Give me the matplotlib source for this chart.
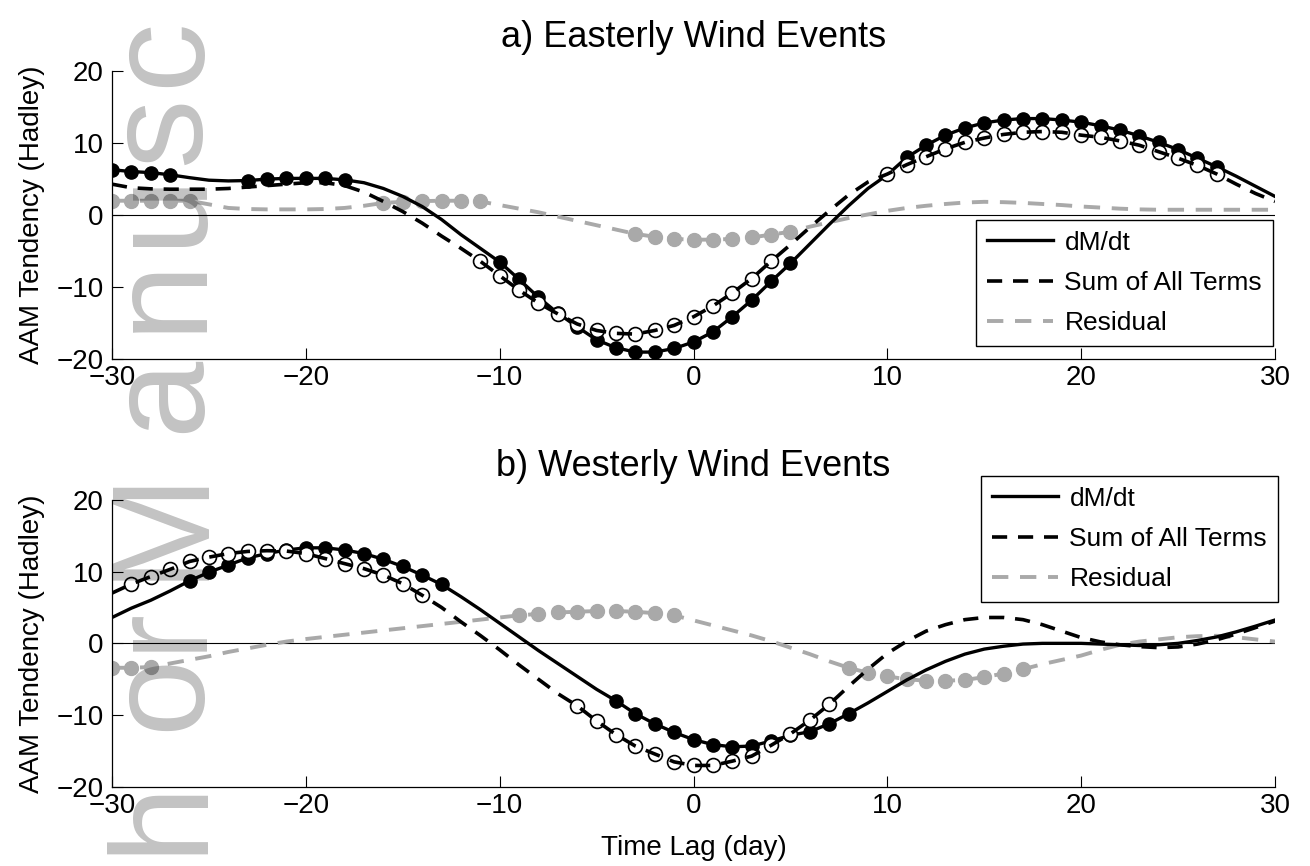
import matplotlib
matplotlib.use("Agg")
import matplotlib.pyplot as plt

plt.rcParams['font.family'] = ['Liberation Sans', 'DejaVu Sans']

# ---------------- data ----------------
days = list(range(-30, 31))

# a) Easterly wind events
a_dmdt = [6.3, 6.05, 5.9, 5.6, 5.2, 4.85, 4.75, 4.8, 5.0, 5.1,
          5.1, 5.1, 4.9, 4.5, 3.7, 2.6, 1.2, -0.6, -2.7, -4.6,
          -6.5, -8.9, -11.4, -13.6, -15.5, -17.3, -18.4, -19.0, -19.0, -18.5,
          -17.6, -16.2, -14.1, -11.8, -9.2, -6.7, -4.0, -1.3, 1.3, 3.7,
          5.6, 8.0, 9.7, 11.1, 12.1, 12.8, 13.2, 13.4, 13.4, 13.2,
          12.9, 12.4, 11.8, 11.0, 10.1, 9.1, 7.9, 6.7, 5.4, 4.0,
          2.6]
a_sum = [4.3, 3.8, 3.65, 3.6, 3.6, 3.6, 3.7, 3.9, 4.1, 4.3,
         4.5, 4.5, 4.1, 3.2, 1.9, 0.5, -1.1, -2.9, -4.6, -6.4,
         -8.4, -10.4, -12.2, -13.7, -15.1, -16.0, -16.4, -16.5, -16.0, -15.3,
         -14.1, -12.6, -10.8, -8.8, -6.4, -4.1, -1.7, 0.6, 2.8, 4.6,
         5.7, 7.0, 8.1, 9.2, 10.1, 10.7, 11.2, 11.5, 11.6, 11.5,
         11.1, 10.8, 10.3, 9.7, 8.8, 7.9, 6.9, 5.7, 4.3, 3.0,
         1.9]
a_res = [2.0, 2.0, 2.0, 2.0, 2.0, 1.5, 1.0, 0.85, 0.8, 0.8,
         0.8, 0.85, 1.0, 1.3, 1.7, 1.85, 1.95, 2.0, 2.0, 1.9,
         1.4, 0.9, 0.4, -0.2, -0.8, -1.4, -2.0, -2.6, -3.0, -3.3,
         -3.4, -3.4, -3.3, -3.1, -2.7, -2.3, -1.6, -1.0, -0.4, 0.1,
         0.6, 1.0, 1.3, 1.55, 1.75, 1.85, 1.8, 1.7, 1.55, 1.4,
         1.2, 1.05, 0.9, 0.8, 0.75, 0.75, 0.75, 0.75, 0.75, 0.75,
         0.75]

# b) Westerly wind events
b_dmdt = [3.6, 4.9, 6.0, 7.3, 8.7, 9.9, 10.9, 11.9, 12.5, 13.0,
          13.3, 13.3, 13.0, 12.5, 11.7, 10.7, 9.5, 8.2, 6.5, 4.7,
          2.8, 0.9, -1.0, -2.8, -4.6, -6.4, -8.0, -9.8, -11.2, -12.4,
          -13.4, -14.1, -14.4, -14.3, -13.6, -12.8, -12.3, -11.2, -9.8, -8.3,
          -6.7, -5.1, -3.7, -2.5, -1.5, -0.8, -0.4, -0.1, 0.0, 0.0,
          0.0, -0.1, -0.2, -0.3, -0.2, 0.0, 0.4, 0.9, 1.6, 2.4,
          3.25]
b_sum = [7.0, 8.25, 9.3, 10.3, 11.4, 12.0, 12.5, 12.8, 12.9, 12.85,
         12.5, 11.8, 11.1, 10.4, 9.5, 8.3, 6.7, 5.0, 3.0, 1.1,
         -0.9, -3.0, -5.0, -7.0, -8.7, -10.8, -12.7, -14.3, -15.4, -16.5,
         -17.0, -17.0, -16.4, -15.7, -14.2, -12.6, -10.7, -8.5, -6.0, -3.6,
         -1.4, 0.3, 1.7, 2.6, 3.3, 3.6, 3.6, 3.3, 2.6, 1.7,
         0.8, 0.2, -0.2, -0.45, -0.6, -0.5, -0.1, 0.5, 1.3, 2.2,
         3.1]
b_res = [-3.4, -3.4, -3.3, -2.8, -2.3, -1.8, -1.2, -0.7, -0.2, 0.25,
         0.6, 0.9, 1.2, 1.5, 1.8, 2.1, 2.4, 2.7, 3.0, 3.3,
         3.6, 3.9, 4.1, 4.3, 4.4, 4.5, 4.5, 4.4, 4.2, 3.9,
         3.2, 2.5, 1.8, 1.1, 0.3, -0.6, -1.5, -2.5, -3.4, -4.1,
         -4.6, -5.0, -5.2, -5.2, -5.1, -4.7, -4.2, -3.6, -2.9, -2.3,
         -1.7, -0.9, -0.2, 0.25, 0.55, 0.85, 1.0, 1.05, 0.85, 0.55,
         0.25]

# days flagged with markers
a_dmdt_mk = list(range(-30, -26)) + list(range(-23, -17)) + list(range(-10, 6)) + list(range(11, 28))
a_sum_mk = list(range(-11, 5)) + list(range(10, 28))
a_res_mk = list(range(-30, -25)) + list(range(-16, -10)) + list(range(-3, 6))
b_dmdt_mk = list(range(-26, -12)) + list(range(-4, 9))
b_sum_mk = list(range(-29, -13)) + list(range(-6, 8))
b_res_mk = list(range(-30, -27)) + list(range(-9, 0)) + list(range(8, 18))

titles = ["a) Easterly Wind Events", "b) Westerly Wind Events"]
legend_labels = ["dM/dt", "Sum of All Terms", "Residual"]
xticks = [-30, -20, -10, 0, 10, 20, 30]
yticks = [-20, -10, 0, 10, 20]

# watermark letters (visible part of "Author Manuscript")
wm_letters = ["h", "o", "r", "M", "a", "n", "u", "s", "c"]

GRAY = '#a9a9a9'
W, H = 1310, 866

fig = plt.figure(figsize=(W / 100, H / 100), dpi=100)

def fx(px):
    return px / W

def fy(py):
    return 1 - py / H

ax_a = fig.add_axes([fx(112), fy(359.3), fx(1275) - fx(112), (359.3 - 71) / H])
ax_b = fig.add_axes([fx(112), fy(787), fx(1275) - fx(112), (787 - 499.7) / H])

panels = [
    (ax_a, a_dmdt, a_sum, a_res, a_dmdt_mk, a_sum_mk, a_res_mk, (976, 220)),
    (ax_b, b_dmdt, b_sum, b_res, b_dmdt_mk, b_sum_mk, b_res_mk, (981, 476)),
]

for i, (ax, dm, sm, rs, dmk, smk, rmk, legpos) in enumerate(panels):
    ax.axhline(0, color='black', lw=0.8, zorder=1)
    # residual
    l3, = ax.plot(days, rs, color=GRAY, lw=2.8, dashes=(4.2, 3.0), zorder=2)
    ax.plot(rmk, [rs[days.index(d)] for d in rmk], 'o', color=GRAY, ms=10,
            mec=GRAY, ls='none', zorder=2)
    # dM/dt
    l1, = ax.plot(days, dm, color='black', lw=2.4, zorder=3)
    ax.plot(dmk, [dm[days.index(d)] for d in dmk], 'o', color='black', ms=9.5,
            ls='none', zorder=3)
    # sum of all terms
    ax.plot(smk, [sm[days.index(d)] for d in smk], 'o', mfc='white', mec='black',
            mew=1.2, ms=10, ls='none', zorder=4)
    l2, = ax.plot(days, sm, color='black', lw=2.6, dashes=(4.2, 3.0), zorder=5)

    ax.set_xlim(-30, 30)
    ax.set_ylim(-20, 20)
    ax.set_xticks(xticks)
    ax.set_yticks(yticks)
    ax.tick_params(direction='in', length=8, width=0.8, labelsize=20,
                   top=False, right=False)
    ax.tick_params(axis='x', pad=4)
    ax.tick_params(axis='y', pad=6)
    for s in ['top', 'right']:
        ax.spines[s].set_visible(False)
    for s in ['left', 'bottom']:
        ax.spines[s].set_linewidth(0.9)
    ax.set_title(titles[i], fontsize=26, pad=17)
    ax.set_ylabel("AAM Tendency (Hadley)", fontsize=20, labelpad=8)

    leg = ax.legend([l1, l2, l3], legend_labels, loc='upper left',
                    bbox_to_anchor=(fx(legpos[0]), fy(legpos[1])),
                    bbox_transform=fig.transFigure, fontsize=19,
                    frameon=True, fancybox=False, framealpha=1,
                    edgecolor='black', borderaxespad=0, borderpad=0.4,
                    handlelength=2.5, handletextpad=0.45, labelspacing=0.62)
    leg.get_frame().set_linewidth(1.0)
    leg.set_zorder(10)

ax_b.set_xlabel("Time Lag (day)", fontsize=20, labelpad=12)

# watermark: letters placed along the left margin, reading bottom to top
wm_centers = [815, 692, 628, 522, 394, 293, 207, 130, 52]
for ch, yc in zip(wm_letters, wm_centers):
    fig.text(fx(199), fy(yc), ch, rotation=90, rotation_mode='anchor',
             ha='center', va='baseline', fontsize=100, color='black',
             alpha=0.24, zorder=20)

fig.savefig("out.png", dpi=100)
